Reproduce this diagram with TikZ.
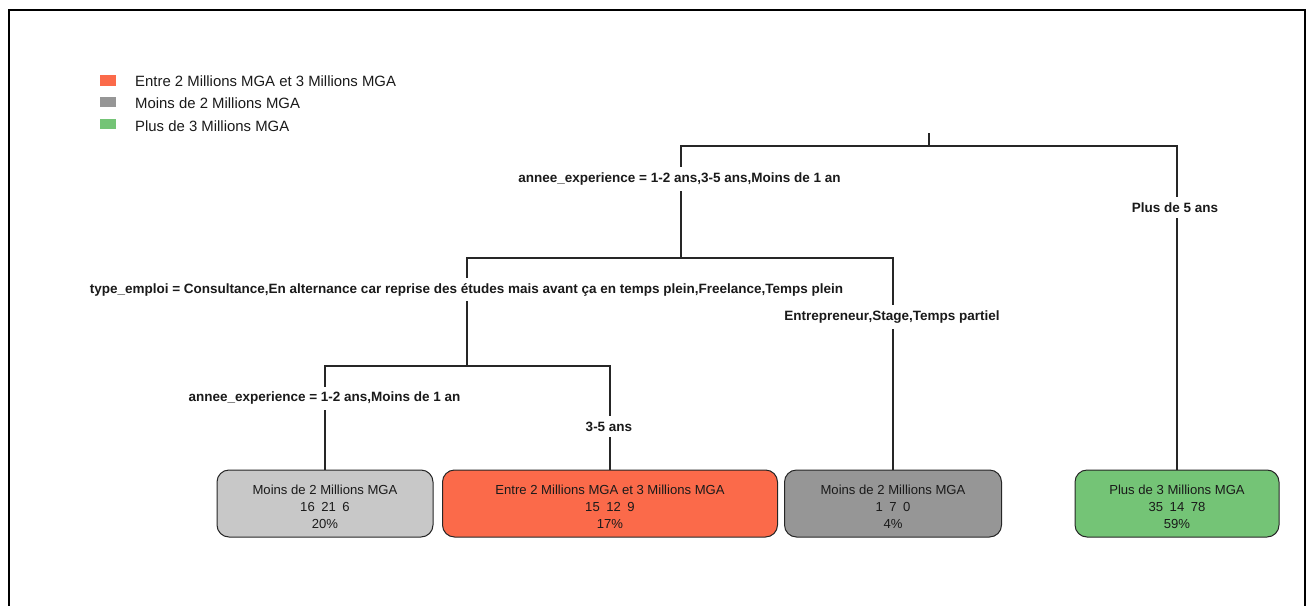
\documentclass[tikz,border=0pt]{standalone}
\usepackage{fontspec}
\setmainfont{Liberation Sans}
\definecolor{cOrange}{HTML}{FB6A4A}
\definecolor{cGrayL}{HTML}{C8C8C8}
\definecolor{cGray}{HTML}{969696}
\definecolor{cGreen}{HTML}{74C476}
\definecolor{cText}{HTML}{1A1A1A}
\definecolor{cLine}{HTML}{262626}
\newcommand{\leafstrut}{\rule{0pt}{16pt}}
\tikzset{
  leaf/.style={draw=cLine, line width=1pt, rounded corners=12pt, inner sep=0pt, align=center,
    font=\fontsize{13.1}{17}\selectfont, text=cText, minimum height=67pt},
  splitlabel/.style={fill=white, inner xsep=1pt, inner ysep=5.5pt, font=\fontsize{13.5}{15}\selectfont\bfseries, text=cText},
  edge/.style={draw=cLine, line width=1.2pt},
  legsq/.style={fill=#1, minimum width=16pt, minimum height=10.5pt, inner sep=0pt},
  legtxt/.style={anchor=west, font=\fontsize{14.9}{16}\selectfont, text=cText, inner sep=0pt},
}
\begin{document}
\begin{tikzpicture}[x=1pt,y=-1pt]
\useasboundingbox (0,0) rectangle (1306,605);
% frame
\draw[line width=2pt] (9,606) -- (9,10) -- (1305,10) -- (1305,606);
% legend
\node[legsq=cOrange] (q1) at (108,80.5) {};
\node[legsq=cGray] (q2) at (108,102) {};
\node[legsq=cGreen] (q3) at (108,124) {};
\node[legtxt] (t1) at (135,81) {Entre 2 Millions MGA et 3 Millions MGA};
\node[legtxt] (t2) at (135,103.5) {Moins de 2 Millions MGA};
\node[legtxt] (t3) at (135,126) {Plus de 3 Millions MGA};
% leaves
\node[leaf, fill=cGrayL, minimum width=216pt] (l1) at (325,503.5)
  {\leafstrut Moins de 2 Millions MGA\\16\enspace21\enspace 6\\20\%};
\node[leaf, fill=cOrange, minimum width=335pt] (l2) at (610,503.5)
  {\leafstrut Entre 2 Millions MGA et 3 Millions MGA\\15\enspace12\enspace 9\\17\%};
\node[leaf, fill=cGray, minimum width=217pt] (l3) at (893,503.5)
  {\leafstrut Moins de 2 Millions MGA\\1\enspace 7\enspace 0\\4\%};
\node[leaf, fill=cGreen, minimum width=204pt] (l4) at (1177,503.5)
  {\leafstrut Plus de 3 Millions MGA\\35\enspace14\enspace78\\59\%};
% junctions
\coordinate (rootTop) at (929,133);
\coordinate (rootBar) at (929,146);
\coordinate (s1) at (681,258);
\coordinate (s2) at (467,366);
% edges
\draw[edge] (rootTop) -- (rootBar);
\draw[edge] (s1) |- (rootBar) -| (l4.north);
\draw[edge] (s2) |- (s1) -| (l3.north);
\draw[edge] (l1.north) |- (s2) -| (l2.north);
% split labels
\node[splitlabel] (e1) at (679.5,179) {annee\_experience = 1-2 ans,3-5 ans,Moins de 1 an};
\node[splitlabel] (e2) at (1175,207.5) {Plus de 5 ans};
\node[splitlabel] (e3) at (466.5,289.5) {type\_emploi = Consultance,En alternance car reprise des études mais avant ça en temps plein,Freelance,Temps plein};
\node[splitlabel] (e4) at (892,317) {Entrepreneur,Stage,Temps partiel};
\node[splitlabel] (e5) at (324.5,398.5) {annee\_experience = 1-2 ans,Moins de 1 an};
\node[splitlabel] (e6) at (609,426.5) {3-5 ans};
\end{tikzpicture}
\end{document}
